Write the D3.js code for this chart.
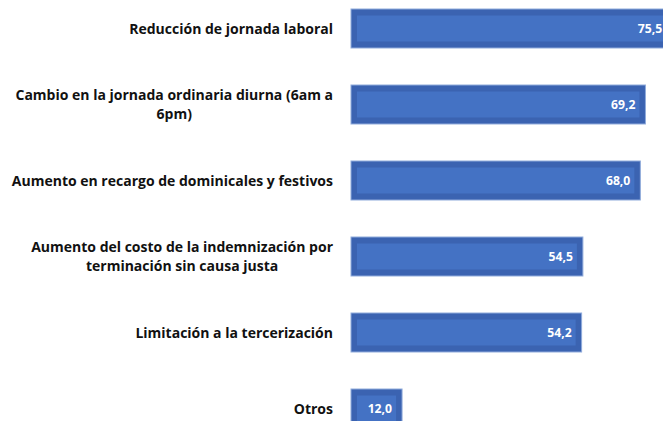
<!DOCTYPE html>
<html><head><meta charset="utf-8">
<script src="https://cdn.jsdelivr.net/npm/d3@7"></script>
<style>html,body{margin:0;padding:0;background:#fff;overflow:hidden}</style>
</head><body>
<svg id="c" width="663" height="421"></svg>
<script>
const categories = [
  ["Reducción de jornada laboral"],
  ["Cambio en la jornada ordinaria diurna (6am a", "6pm)"],
  ["Aumento en recargo de dominicales y festivos"],
  ["Aumento del costo de la indemnización por", "terminación sin causa justa"],
  ["Limitación a la tercerización"],
  ["Otros"]
];
const values = [75.5, 69.2, 68.0, 54.5, 54.2, 12.0];
const valueLabels = ["75,5", "69,2", "68,0", "54,5", "54,2", "12,0"];

const FONT = "'Open Sans', 'DejaVu Sans', sans-serif";
const CAT_SIZE = 14;
const svg = d3.select("#c");
const x = d3.scaleLinear().domain([0, 100]).range([351, 351 + 425.5]);
const pad = 37 / 76;
const y = d3.scaleBand().domain(d3.range(categories.length))
  .range([-9.5, 446.5]).paddingInner(pad).paddingOuter(pad / 2);

const g = svg.selectAll("g.bar").data(values).join("g").attr("class", "bar");
g.append("rect")
  .attr("x", x(0)).attr("y", (d, i) => y(i))
  .attr("width", d => x(d) - x(0)).attr("height", y.bandwidth())
  .attr("fill", "#3b63b1").attr("stroke", "#90abdb").attr("stroke-width", 1);
g.append("rect")
  .attr("x", x(0) + 6).attr("y", (d, i) => y(i) + 6.5)
  .attr("width", d => x(d) - x(0) - 12).attr("height", y.bandwidth() - 13)
  .attr("fill", "#4472c4");
g.append("text")
  .attr("x", d => x(d) - 10).attr("y", (d, i) => y(i) + y.bandwidth() / 2)
  .attr("dy", "0.36em").attr("text-anchor", "end")
  .attr("fill", "#fff").attr("font-family", FONT)
  .attr("font-weight", "bold").attr("font-size", 12.2)
  .text((d, i) => valueLabels[i]);

const lab = svg.selectAll("text.cat").data(categories).join("text").attr("class", "cat")
  .attr("font-family", FONT).attr("font-weight", "bold")
  .attr("font-size", CAT_SIZE).attr("fill", "#111").attr("text-anchor", "middle");
lab.each(function (lines, i) {
  const t = d3.select(this);
  const cy = y(i) + y.bandwidth() / 2;
  const lh = 18.5;
  const y0 = cy - (lines.length - 1) * lh / 2;
  lines.forEach((ln, k) => {
    t.append("tspan").attr("y", y0 + k * lh).attr("dy", "0.36em").text(ln);
  });
  const widths = lines.map(ln => {
    const s = svg.append("text").attr("font-family", FONT)
      .attr("font-weight", "bold").attr("font-size", CAT_SIZE).text(ln);
    const w = s.node().getComputedTextLength(); s.remove(); return w;
  });
  const bw = d3.max(widths);
  t.selectAll("tspan").attr("x", 333 - bw / 2);
});
</script>
</body></html>
